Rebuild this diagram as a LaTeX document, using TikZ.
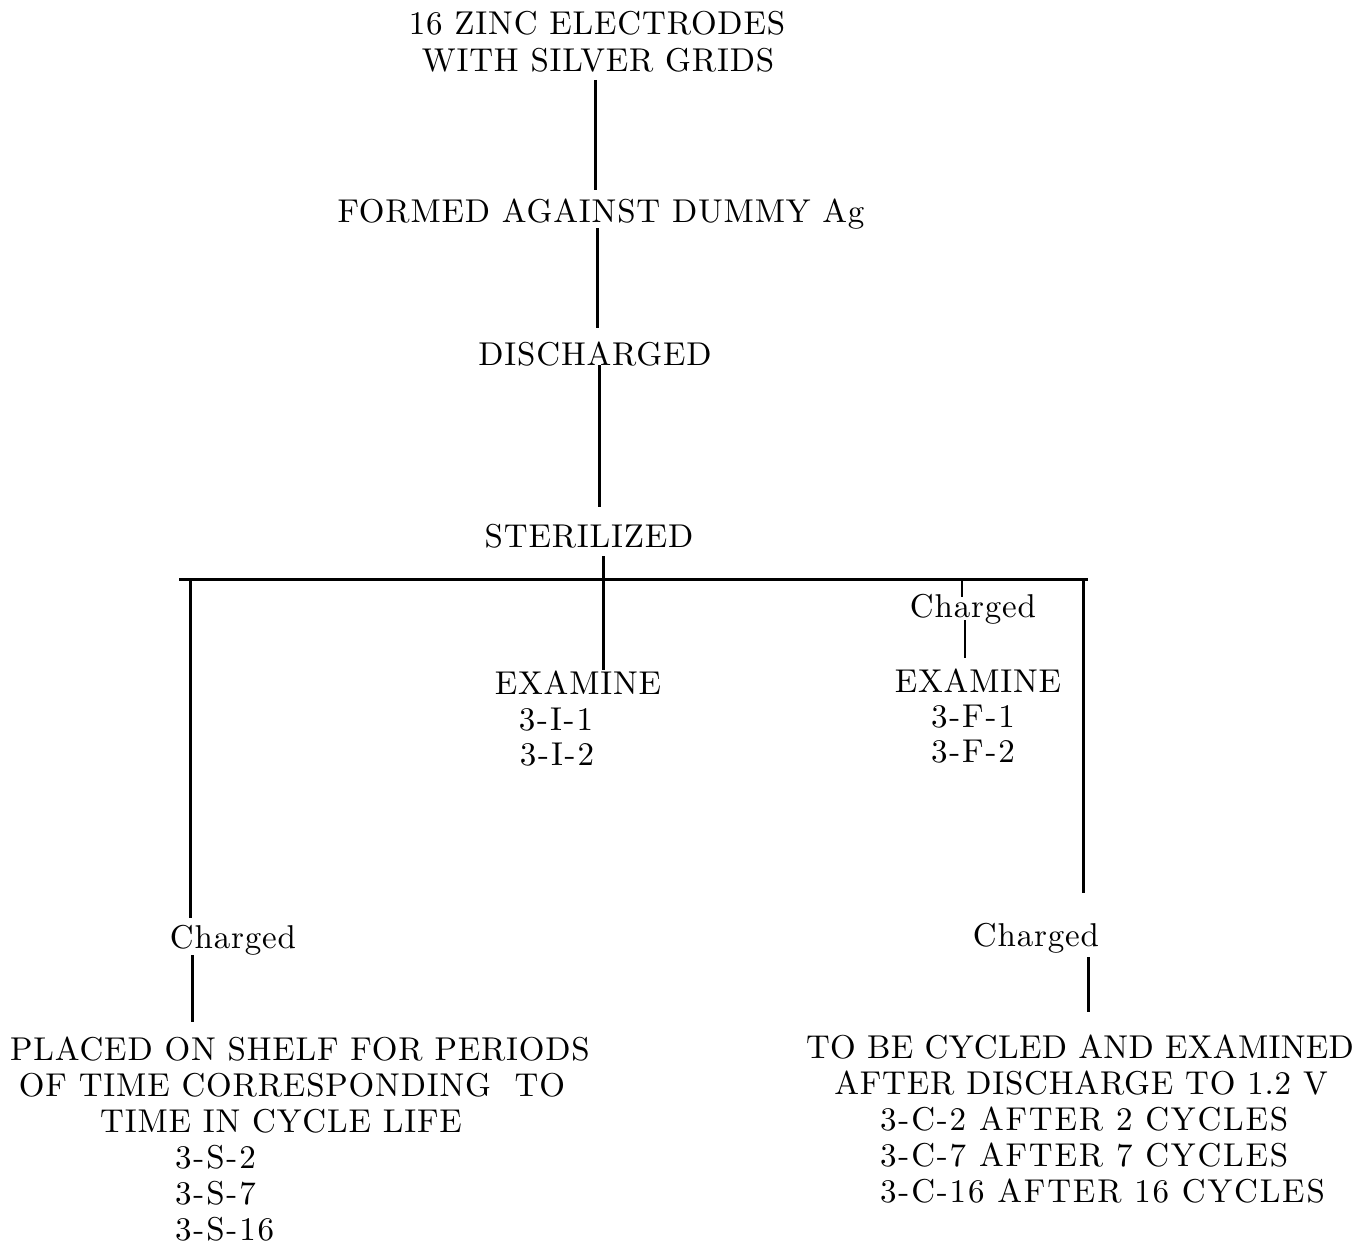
\documentclass[tikz,border=0pt]{standalone}
\usepackage{fontspec}
\newfontfamily\twfont{lmroman10-regular}[Extension=.otf, LetterSpace=2.5]
\newfontfamily\twfontn{lmroman10-regular}[Extension=.otf, LetterSpace=1]
\newfontfamily\twfontw{lmroman10-regular}[Extension=.otf, LetterSpace=5.5]
\begin{document}
\begin{tikzpicture}[x=1pt,y=-1pt,
  txt/.style={font=\twfont\fontsize{33}{38}\selectfont, inner sep=0pt, anchor=base},
  txtn/.style={txt, font=\twfontn\fontsize{33}{38}\selectfont},
  txtw/.style={txt, font=\twfontw\fontsize{33}{38}\selectfont},
  idl/.style={txtw, anchor=base west},
  conn/.style={line width=3pt},
  thin/.style={line width=1.6pt}]
\fill[white] (0,0) rectangle (1360,1244);
\useasboundingbox (0,0) rectangle (1360,1244);
% text nodes
\node[txt] (zinc1) at (597,35) {16 ZINC ELECTRODES};
\node[txt] (zinc2) at (598,72) {WITH SILVER GRIDS};
\node[txt] (formed) at (601,222) {FORMED AGAINST DUMMY Ag};
\node[txt] (disch) at (595,365) {DISCHARGED};
\node[txt] (steril) at (589,547) {STERILIZED};
\node[txt] (exI1) at (578,694) {EXAMINE};
\node[txtw] (exI2) at (556,730) {3-I-1};
\node[txtw] (exI3) at (557,765) {3-I-2};
\node[txt] (chgTR) at (973,617) {Charged};
\node[txt] (exF1) at (978,692) {EXAMINE};
\node[txtw] (exF2) at (973,727) {3-F-1};
\node[txtw] (exF3) at (973,762) {3-F-2};
\node[txt] (chgL) at (233,948) {Charged};
\node[txt] (chgR) at (1036,946) {Charged};
\node[txt] (shelf1) at (300,1060) {PLACED ON SHELF FOR PERIODS};
\node[txt] (shelf2) at (292,1096) {OF TIME CORRESPONDING\ \ TO};
\node[txt] (shelf3) at (281,1132) {TIME IN CYCLE LIFE};
\node[idl] (shelf4) at (175,1168) {3-S-2};
\node[idl] (shelf5) at (175,1204) {3-S-7};
\node[idl] (shelf6) at (175,1240) {3-S-16};
\node[txtn] (cyc1) at (1080,1058) {TO BE CYCLED AND EXAMINED};
\node[txt] (cyc2) at (1081,1094) {AFTER DISCHARGE TO 1.2 V};
\node[idl] (cyc3) at (880,1130) {3-C-2 AFTER 2 CYCLES};
\node[idl] (cyc4) at (880,1166) {3-C-7 AFTER 7 CYCLES};
\node[idl] (cyc5) at (880,1202) {3-C-16 AFTER 16 CYCLES};
% reference coordinates
\coordinate (t1) at (595,0);
\coordinate (t2) at (597,0);
\coordinate (t3) at (599,0);
\coordinate (t4) at (603,0);
\coordinate (lx) at (190,0);
\coordinate (lx2) at (192,0);
\coordinate (rx) at (1083,0);
\coordinate (rx2) at (1088,0);
\coordinate (fx) at (962,0);
\coordinate (fx2) at (965,0);
\coordinate (barL) at (179,579);
\coordinate (barR) at (1088,579);
% connectors
\draw[conn, shorten <=8pt, shorten >=32pt] (zinc2.base -| t1) -- (formed.base -| t1);
\draw[conn, shorten <=6pt, shorten >=37pt] (formed.base -| t2) -- (disch.base -| t2);
\draw[conn, shorten >=40pt] (disch.base -| t3) -- (steril.base -| t3);
\draw[conn, shorten <=9pt, shorten >=24pt] (steril.base -| t4) -- (exI1.base -| t4);
\draw[conn] (barL) -- (barR);
\draw[conn, shorten >=30pt] (barL -| lx) -- (chgL.base -| lx);
\draw[conn, shorten <=7pt, shorten >=38pt] (chgL.base -| lx2) -- (shelf1.base -| lx2);
\draw[conn, shorten >=53pt] (barR -| rx) -- (chgR.base -| rx);
\draw[conn, shorten <=11pt, shorten >=46pt] (chgR.base -| rx2) -- (cyc1.base -| rx2);
\draw[thin, shorten >=20pt] (barL -| fx) -- (chgTR.base -| fx);
\draw[thin, shorten <=3pt, shorten >=34pt] (chgTR.base -| fx2) -- (exF1.base -| fx2);
\end{tikzpicture}
\end{document}
